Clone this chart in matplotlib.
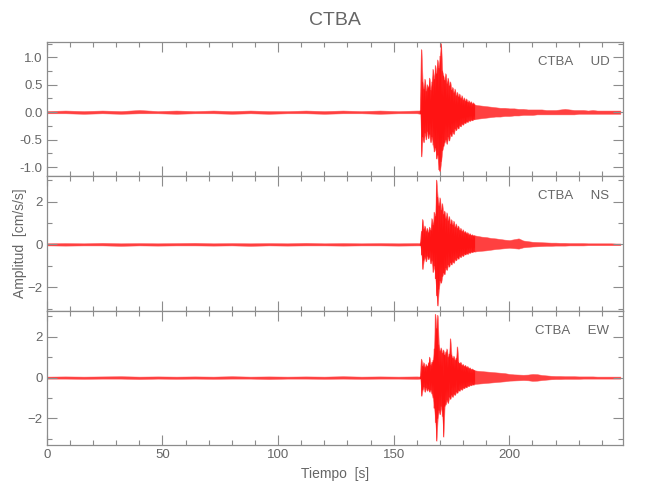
import numpy as np
import matplotlib
matplotlib.use('Agg')
from matplotlib import pyplot as plt
from matplotlib.ticker import MultipleLocator, FormatStrFormatter

plt.rcParams['font.family'] = ['Liberation Sans', 'DejaVu Sans']

gris = '#8c8c8c'
texto = '#666666'

# ---------------- datos ----------------
# tiempos de muestreo (s)
t_pre = np.arange(0, 161, 8)            # ruido antes del evento
t_evt = np.arange(161.5, 185.01, 0.5)   # fase fuerte
t_coda = np.arange(186, 249, 2)         # coda

# UD  (picos positivos / negativos)
ud_pre_hi = [0.02, 0.03, 0.02, 0.03, 0.02, 0.04, 0.02, 0.03, 0.02, 0.03, 0.02,
             0.03, 0.02, 0.02, 0.03, 0.02, 0.03, 0.02, 0.03, 0.02, 0.03]
ud_pre_lo = [-0.02, -0.02, -0.03, -0.02, -0.03, -0.02, -0.02, -0.03, -0.02, -0.02, -0.03,
             -0.02, -0.03, -0.02, -0.02, -0.03, -0.02, -0.02, -0.03, -0.02, -0.02]
ud_evt_hi = [0.03, 1.14, 0.55, 0.42, 0.60, 0.38, 0.50, 0.45, 0.62, 0.40, 0.55, 0.78,
             0.60, 0.85, 0.70, 0.95, 0.80, 1.02, 1.25, 0.75, 0.66, 0.58, 0.70, 0.52,
             0.62, 0.48, 0.55, 0.40, 0.45, 0.35, 0.42, 0.30, 0.36, 0.28, 0.33, 0.25,
             0.30, 0.22, 0.26, 0.20, 0.24, 0.18, 0.21, 0.17, 0.19, 0.15, 0.17, 0.14]
ud_evt_lo = [-0.03, -0.81, -0.45, -0.55, -0.38, -0.50, -0.35, -0.48, -0.40, -0.55, -0.45, -0.60,
             -0.72, -0.65, -0.85, -0.78, -1.05, -1.08, -0.90, -0.70, -0.62, -0.55, -0.50, -0.58,
             -0.45, -0.52, -0.40, -0.44, -0.36, -0.40, -0.30, -0.33, -0.27, -0.30, -0.24, -0.26,
             -0.21, -0.23, -0.19, -0.20, -0.17, -0.18, -0.15, -0.16, -0.14, -0.15, -0.13, -0.13]
ud_coda_hi = [0.13, 0.12, 0.11, 0.10, 0.09, 0.08, 0.08, 0.07, 0.07, 0.06, 0.06, 0.05,
              0.05, 0.05, 0.05, 0.04, 0.04, 0.04, 0.05, 0.06, 0.05, 0.04, 0.04, 0.04,
              0.03, 0.04, 0.03, 0.03, 0.03, 0.03, 0.03, 0.03]
ud_coda_lo = [-0.12, -0.11, -0.10, -0.09, -0.08, -0.08, -0.07, -0.07, -0.06, -0.06, -0.05, -0.05,
              -0.05, -0.04, -0.04, -0.04, -0.04, -0.04, -0.04, -0.04, -0.04, -0.04, -0.03, -0.03,
              -0.03, -0.03, -0.03, -0.03, -0.03, -0.03, -0.03, -0.03]

# NS
ns_pre_hi = [0.05, 0.06, 0.05, 0.07, 0.05, 0.06, 0.05, 0.06, 0.07, 0.05, 0.06,
             0.05, 0.06, 0.05, 0.07, 0.05, 0.06, 0.05, 0.06, 0.05, 0.06]
ns_pre_lo = [-0.05, -0.06, -0.05, -0.05, -0.07, -0.05, -0.06, -0.05, -0.05, -0.06, -0.05,
             -0.07, -0.05, -0.06, -0.05, -0.05, -0.06, -0.05, -0.05, -0.06, -0.05]
ns_evt_hi = [0.05, 0.60, 1.16, 0.70, 0.85, 0.60, 0.75, 0.55, 0.80, 0.65, 1.20, 0.90,
             1.50, 1.30, 3.00, 2.20, 1.80, 2.17, 1.60, 1.90, 1.40, 1.55, 1.20, 1.47,
             1.10, 1.30, 0.95, 1.15, 0.90, 1.08, 0.80, 0.95, 0.75, 0.85, 0.65, 0.75,
             0.60, 0.68, 0.55, 0.60, 0.50, 0.55, 0.45, 0.50, 0.42, 0.45, 0.40, 0.42]
ns_evt_lo = [-0.05, -0.50, -1.16, -0.75, -0.60, -0.80, -0.55, -0.70, -0.60, -0.90, -0.75, -1.30,
             -1.00, -1.60, -2.40, -2.87, -2.10, -1.70, -1.80, -1.50, -1.33, -1.40, -1.10, -1.20,
             -0.95, -1.05, -0.85, -0.95, -0.80, -0.87, -0.70, -0.75, -0.62, -0.68, -0.55, -0.60,
             -0.50, -0.55, -0.45, -0.48, -0.42, -0.45, -0.38, -0.40, -0.35, -0.37, -0.33, -0.34]
ns_coda_hi = [0.40, 0.36, 0.34, 0.30, 0.28, 0.25, 0.22, 0.20, 0.24, 0.28, 0.18, 0.15,
              0.12, 0.11, 0.10, 0.09, 0.08, 0.08, 0.07, 0.07, 0.06, 0.06, 0.06, 0.06,
              0.05, 0.05, 0.05, 0.05, 0.05, 0.05, 0.04, 0.04]
ns_coda_lo = [-0.32, -0.30, -0.28, -0.25, -0.22, -0.20, -0.18, -0.16, -0.18, -0.20, -0.14, -0.12,
              -0.10, -0.09, -0.08, -0.07, -0.07, -0.06, -0.06, -0.06, -0.05, -0.05, -0.05, -0.05,
              -0.04, -0.04, -0.04, -0.04, -0.04, -0.04, -0.04, -0.04]

# EW
ew_pre_hi = [0.05, 0.06, 0.05, 0.06, 0.07, 0.05, 0.06, 0.05, 0.06, 0.05, 0.07,
             0.05, 0.06, 0.05, 0.06, 0.05, 0.07, 0.05, 0.06, 0.05, 0.06]
ew_pre_lo = [-0.05, -0.05, -0.06, -0.05, -0.05, -0.07, -0.05, -0.06, -0.05, -0.06, -0.05,
             -0.05, -0.07, -0.05, -0.05, -0.06, -0.05, -0.06, -0.05, -0.05, -0.06]
ew_evt_hi = [0.05, 0.90, 0.55, 0.73, 0.50, 0.65, 0.55, 0.72, 1.00, 0.60, 0.75, 0.85,
             1.40, 3.10, 2.40, 3.05, 1.60, 1.30, 1.45, 1.20, 1.35, 1.10, 1.25, 1.40,
             1.00, 1.15, 1.90, 1.10, 0.95, 1.05, 0.85, 0.95, 1.50, 0.75, 0.70, 0.75,
             0.60, 0.65, 0.55, 0.60, 0.50, 0.55, 0.45, 0.48, 0.40, 0.42, 0.38, 0.36]
ew_evt_lo = [-0.05, -0.90, -0.60, -0.45, -0.70, -0.50, -0.65, -0.55, -0.70, -0.60, -0.80, -1.00,
             -1.50, -2.20, -3.10, -2.00, -1.60, -1.80, -1.40, -1.90, -2.90, -1.40, -1.30, -1.10,
             -1.25, -0.95, -1.05, -0.85, -0.95, -0.80, -0.85, -0.70, -0.75, -0.62, -0.65, -0.55,
             -0.60, -0.50, -0.52, -0.45, -0.48, -0.40, -0.42, -0.36, -0.38, -0.33, -0.35, -0.31]
ew_coda_hi = [0.34, 0.32, 0.30, 0.28, 0.26, 0.24, 0.22, 0.18, 0.16, 0.15, 0.14, 0.15,
              0.18, 0.17, 0.13, 0.11, 0.09, 0.08, 0.08, 0.07, 0.07, 0.07, 0.06, 0.06,
              0.06, 0.06, 0.05, 0.05, 0.05, 0.05, 0.05, 0.05]
ew_coda_lo = [-0.30, -0.28, -0.26, -0.24, -0.22, -0.20, -0.18, -0.15, -0.14, -0.13, -0.12, -0.13,
              -0.16, -0.15, -0.12, -0.10, -0.08, -0.07, -0.07, -0.06, -0.06, -0.06, -0.06, -0.05,
              -0.05, -0.05, -0.05, -0.05, -0.05, -0.05, -0.05, -0.05]

componentes = ['UD', 'NS', 'EW']
estacion = 'CTBA'
datos = {
    'UD': [(ud_pre_hi, ud_pre_lo), (ud_evt_hi, ud_evt_lo), (ud_coda_hi, ud_coda_lo)],
    'NS': [(ns_pre_hi, ns_pre_lo), (ns_evt_hi, ns_evt_lo), (ns_coda_hi, ns_coda_lo)],
    'EW': [(ew_pre_hi, ew_pre_lo), (ew_evt_hi, ew_evt_lo), (ew_coda_hi, ew_coda_lo)],
}
ylims = {'UD': (-1.17, 1.28), 'NS': (-3.1, 3.18), 'EW': (-3.3, 3.28)}
ymajor = {'UD': 0.5, 'NS': 2, 'EW': 2}
yminor = {'UD': 0.25, 'NS': 1, 'EW': 1}

t_todo = np.concatenate([t_pre, t_evt, t_coda])

####################################
#           Plot
####################################
fig, ax = plt.subplots(nrows=3, ncols=1, figsize=(6.5, 5.0), dpi=100, sharex=True)
fig.subplots_adjust(left=0.072, right=0.958, top=0.916, bottom=0.11, hspace=0)

for axis, comp in zip(ax, componentes):
    (pre_hi, pre_lo), (evt_hi, evt_lo), (coda_hi, coda_lo) = datos[comp]
    hi_todo = np.concatenate([pre_hi, evt_hi, coda_hi])
    lo_todo = np.concatenate([pre_lo, evt_lo, coda_lo])
    # envolvente de la traza
    axis.fill_between(t_todo, lo_todo, hi_todo, facecolor='#ff1010', edgecolor='#ff5050',
                      linewidth=0.4, alpha=0.8)
    # fase fuerte: sube al pico positivo y baja al negativo en cada muestra
    x = np.repeat(t_evt, 2)
    y = np.column_stack([evt_hi, evt_lo]).ravel()
    axis.plot(x, y, color='red', linewidth=0.6, alpha=0.7)

    axis.set_xlim(0, 249)
    axis.set_ylim(*ylims[comp])
    axis.xaxis.set_major_locator(MultipleLocator(50))
    axis.xaxis.set_minor_locator(MultipleLocator(10))
    axis.yaxis.set_major_locator(MultipleLocator(ymajor[comp]))
    axis.yaxis.set_minor_locator(MultipleLocator(yminor[comp]))
    axis.tick_params(which='both', direction='in', top=True, right=True,
                     color=gris, labelcolor=texto, labelsize=9.5, pad=3)
    axis.tick_params(which='major', length=7, width=0.8)
    axis.tick_params(which='minor', length=3.5, width=0.8)
    for sp in axis.spines.values():
        sp.set_color(gris)
        sp.set_linewidth(0.9)
    axis.text(0.977, 0.85, estacion + '     ' + comp, transform=axis.transAxes,
              ha='right', va='center', fontsize=9.5, color=texto)

ax[0].yaxis.set_major_formatter(FormatStrFormatter('%.1f'))
ax[0].set_title(estacion, fontsize=14, color=texto, pad=12)
ax[1].set_ylabel('Amplitud  [cm/s/s]', fontsize=10, color=texto)
ax[1].yaxis.set_label_coords(-0.035, 0.5)
ax[2].set_xlabel('Tiempo  [s]', fontsize=10, color=texto, labelpad=4)

plt.savefig('out.png', dpi=100)
